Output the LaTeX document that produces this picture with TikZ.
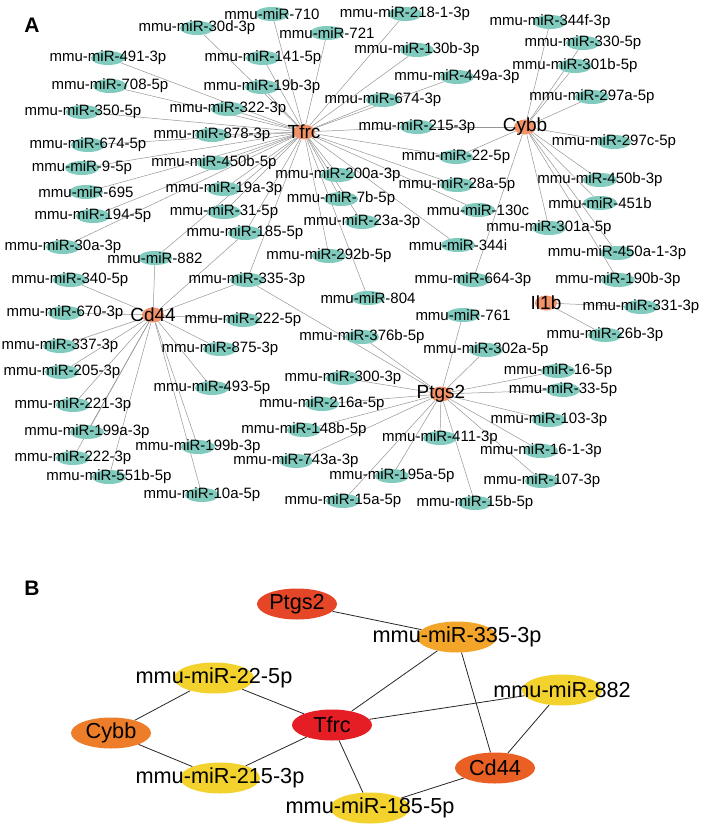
\documentclass[tikz,border=0pt]{standalone}
\usepackage{fontspec}
\setmainfont{Liberation Sans}
\usetikzlibrary{shapes.geometric}
\definecolor{tealA}{RGB}{128,203,190}
\definecolor{hubA}{RGB}{242,146,104}
\definecolor{edgeA}{RGB}{150,150,150}
\definecolor{cPtgs}{RGB}{230,70,40}
\definecolor{cTfrc}{RGB}{228,30,36}
\definecolor{cCd}{RGB}{234,95,35}
\definecolor{cCybb}{RGB}{237,125,40}
\definecolor{cAmber}{RGB}{242,165,40}
\definecolor{cYel}{RGB}{243,210,45}
\pgfdeclarelayer{bgl}
\pgfdeclarelayer{edges}
\pgfsetlayers{bgl,edges,main}
\begin{document}
\begin{tikzpicture}[x=1pt,y=-1pt,
  mirn/.style={ellipse, fill=tealA, minimum width=34pt, minimum height=14pt, inner sep=0pt},
  lblA/.style={font=\fontsize{15}{17}\selectfont, inner sep=0pt},
  hubn/.style={ellipse, fill=hubA, minimum width=22pt, minimum height=15pt, inner sep=0pt},
  hubl/.style={font=\fontsize{19}{21}\selectfont, inner sep=0pt},
  ea/.style={draw=edgeA, line width=0.5pt},
  bnode/.style={ellipse, minimum width=80pt, minimum height=31pt, inner sep=0pt},
  lblB/.style={font=\fontsize{21.7}{24}\selectfont, inner sep=0pt},
  eb/.style={draw=black!85, line width=0.8pt},
  panel/.style={font=\fontsize{21}{24}\selectfont\bfseries, inner sep=0pt}]
\useasboundingbox (0,0) rectangle (702,832);
\begin{pgfonlayer}{bgl}
\fill[white] (0,0) rectangle (702,832);
\end{pgfonlayer}

\node[panel] (labA) at (32,25) {A};
\node[panel] (labB) at (32,588) {B};

% ---------- Panel A hubs ----------
\node[hubn, label={[hubl]center:Tfrc}] (Tfrc) at (304,132) {};
\node[hubn, label={[hubl]center:Cybb}] (Cybb) at (525,127) {};
\node[hubn, label={[hubl]center:Cd44}] (Cd44) at (153,315) {};
\node[hubn, label={[hubl]center:Ptgs2}] (Ptgs2) at (441,394) {};
\node[hubn, label={[hubl]center:Il1b}] (Il1b) at (546,303) {};

% ---------- Panel A miRNAs ----------
\foreach \t/\x/\y in {
 30d-3p/197/28, 710/272/14, 218-1-3p/405/14, 721/327/33,
 491-3p/108/58, 141-5p/263/58, 130b-3p/417/50, 344f-3p/550/22,
 330-5p/583/43, 301b-5p/575/66, 449a-3p/457/77, 297a-5p/592/97,
 708-5p/110/86, 19b-3p/262/87, 322-3p/228/109, 674-3p/383/100,
 350-5p/83/112, 878-3p/212/135, 215-3p/417/127, 674-5p/88/145,
 297c-5p/614/142, 9-5p/82/168, 450b-5p/214/163, 22-5p/456/157,
 695/86/192, 19a-3p/224/189, 200a-3p/338/175, 28a-5p/457/185,
 194-5p/93/216, 31-5p/224/212, 7b-5p/341/199, 130c/478/210,
 450b-3p/600/180, 451b/600/203, 23a-3p/362/222, 301a-5p/549/228,
 30a-3p/63/247, 185-5p/245/233, 882/155/258, 344i/458/245,
 450a-1-3p/617/253, 292b-5p/329/256, 664-3p/473/280, 190b-3p/618/280,
 340-5p/70/280, 335-3p/247/280, 804/368/298, 331-3p/641/307,
 670-3p/65/313, 222-5p/243/320, 761/463/315, 376b-5p/362/337,
 26b-3p/605/335, 337-3p/60/346, 875-3p/220/349, 302a-5p/486/350,
 205-3p/62/372, 493-5p/212/388, 16-5p/558/371, 300-3p/343/378,
 33-5p/563/390, 216a-5p/322/404, 221-3p/73/405, 103-3p/549/420,
 148b-5p/304/430, 199a-3p/87/432, 411-3p/440/438, 199b-3p/198/447,
 743a-3p/296/461, 222-3p/73/458, 16-1-3p/541/451, 551b-5p/109/477,
 195a-5p/392/476, 107-3p/542/481, 10a-5p/202/495, 15a-5p/343/501,
 15b-5p/475/503}
 {\node[mirn, label={[lblA]center:mmu-miR-\t}] (m\t) at (\x,\y) {};}

% ---------- Panel A edges ----------
\begin{pgfonlayer}{edges}
\foreach \t in {30d-3p,710,218-1-3p,721,491-3p,141-5p,130b-3p,449a-3p,708-5p,
  19b-3p,322-3p,674-3p,350-5p,878-3p,215-3p,674-5p,9-5p,450b-5p,22-5p,695,
  19a-3p,200a-3p,28a-5p,194-5p,31-5p,7b-5p,130c,23a-3p,30a-3p,185-5p,882,
  344i,292b-5p,335-3p,804}
  {\draw[ea] (Tfrc) -- (m\t);}
\foreach \t in {344f-3p,330-5p,301b-5p,297a-5p,297c-5p,215-3p,22-5p,450b-3p,
  451b,301a-5p,450a-1-3p,190b-3p,664-3p}
  {\draw[ea] (Cybb) -- (m\t);}
\foreach \t in {331-3p,26b-3p}
  {\draw[ea] (Il1b) -- (m\t);}
\foreach \t in {882,185-5p,335-3p,340-5p,670-3p,337-3p,205-3p,221-3p,199a-3p,
  222-3p,551b-5p,10a-5p,199b-3p,493-5p,875-3p,222-5p}
  {\draw[ea] (Cd44) -- (m\t);}
\foreach \t in {335-3p,376b-5p,761,302a-5p,16-5p,33-5p,103-3p,16-1-3p,107-3p,
  15b-5p,411-3p,195a-5p,15a-5p,743a-3p,148b-5p,216a-5p,300-3p}
  {\draw[ea] (Ptgs2) -- (m\t);}
\end{pgfonlayer}

% ---------- Panel B ----------
\node[bnode, fill=cPtgs, label={[lblB]center:Ptgs2}] (bPtgs2) at (297,604) {};
\node[bnode, fill=cAmber, label={[lblB]center:mmu-miR-335-3p}] (b335) at (457,637) {};
\node[bnode, fill=cYel, label={[lblB]center:mmu-miR-22-5p}] (b22) at (214,678) {};
\node[bnode, fill=cYel, label={[lblB]center:mmu-miR-882}] (b882) at (562,690) {};
\node[bnode, fill=cCybb, label={[lblB]center:Cybb}] (bCybb) at (111,733) {};
\node[bnode, fill=cTfrc, label={[lblB]center:Tfrc}] (bTfrc) at (332,725) {};
\node[bnode, fill=cYel, label={[lblB]center:mmu-miR-215-3p}] (b215) at (220,778) {};
\node[bnode, fill=cCd, label={[lblB]center:Cd44}] (bCd44) at (495,768) {};
\node[bnode, fill=cYel, label={[lblB]center:mmu-miR-185-5p}] (b185) at (370,808) {};

\begin{pgfonlayer}{edges}
\draw[eb] (bPtgs2) -- (b335);
\draw[eb] (b335) -- (bTfrc);
\draw[eb] (b335) -- (bCd44);
\draw[eb] (bTfrc) -- (b882);
\draw[eb] (b882) -- (bCd44);
\draw[eb] (bTfrc) -- (b22);
\draw[eb] (b22) -- (bCybb);
\draw[eb] (bCybb) -- (b215);
\draw[eb] (b215) -- (bTfrc);
\draw[eb] (bTfrc) -- (b185);
\draw[eb] (b185) -- (bCd44);
\end{pgfonlayer}
\end{tikzpicture}
\end{document}
